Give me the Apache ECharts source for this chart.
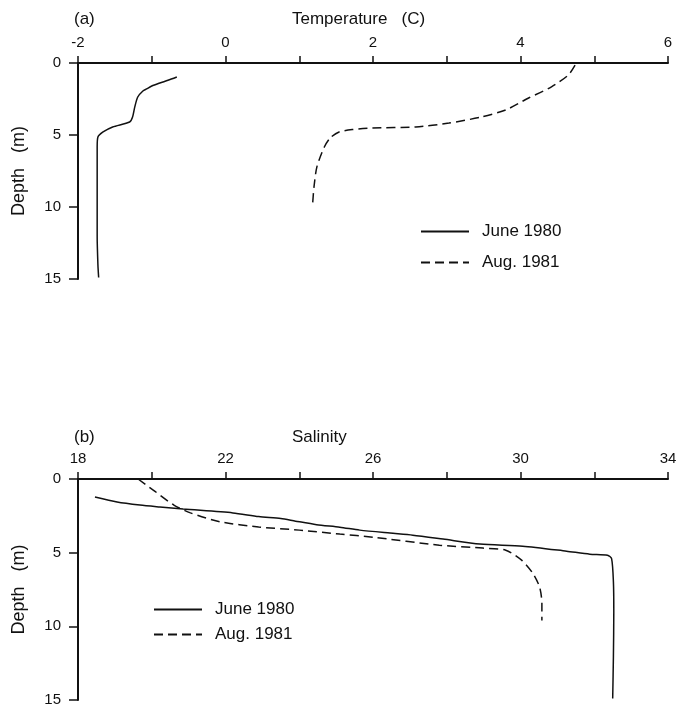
<!DOCTYPE html>
<html>
<head>
<meta charset="utf-8">
<script src="https://cdn.jsdelivr.net/npm/echarts@6/dist/echarts.min.js"></script>
<style>html,body{margin:0;padding:0;background:#fff;}#c{width:684px;height:709px;}</style>
</head>
<body>
<div id="c"></div>
<script>
// ---- Data (depth in m, value) ----
const tempDepthJune = [0.97,1.2,1.39,1.6,1.8,1.94,2.36,3.05,3.75,4.1,4.44,4.79,5.14,5.83,8.0,10.0,12.0,14.0,14.9];
const tempJune      = [-0.66,-0.78,-0.89,-1.0,-1.07,-1.12,-1.19,-1.23,-1.26,-1.30,-1.53,-1.66,-1.73,-1.74,-1.74,-1.74,-1.74,-1.73,-1.72];
const tempDepthAug  = [0.15,0.83,1.66,2.43,3.26,3.75,4.17,4.44,4.51,4.62,4.79,5.2,5.83,7.2,8.6,9.9];
const tempAug       = [4.74,4.65,4.42,4.11,3.80,3.47,3.03,2.58,1.99,1.72,1.54,1.42,1.34,1.24,1.20,1.18];

const salDepthJune = [1.22,1.56,1.77,1.90,2.04,2.30,2.55,2.68,2.86,3.10,3.27,3.47,3.67,3.81,4.08,4.42,4.56,4.90,5.10,5.17,5.40,7.0,9.0,12.0,14.9];
const salJune      = [18.46,19.06,19.68,20.22,20.85,22.20,22.90,23.50,23.90,24.47,25.10,25.64,26.46,27.08,27.90,28.90,30.06,31.25,31.88,32.36,32.47,32.52,32.53,32.52,32.50];
const salDepthAug  = [0.0,0.75,1.77,2.30,2.90,3.26,3.47,3.74,3.95,4.49,4.69,4.83,5.51,6.39,7.35,8.44,9.6];
const salAug       = [19.63,20.04,20.60,21.05,21.85,22.90,24.00,25.10,26.00,27.80,28.98,29.60,30.03,30.33,30.52,30.58,30.58];

const depthTicks = [0,5,10,15];
const tempLabels = [-2,0,2,4,6];
const salLabels = [18,22,26,30,34];
const seriesNames = ['June 1980','Aug. 1981'];

function pairs(vals, depths){ return vals.map((v,i)=>[v, depths[i]]); }

const FONT = 'Liberation Sans';
const INK = '#111';
const dash = [9,5];

function xAxisCfg(grid, min, max, interval, labels){
  return {
    type:'value', gridIndex:grid, position:'top', min:min, max:max, interval:interval,
    axisLine:{show:true, onZero:false, lineStyle:{color:INK, width:2}},
    axisTick:{show:true, inside:false, length:7, lineStyle:{color:INK, width:1.5}},
    axisLabel:{margin:13, color:INK, fontFamily:FONT, fontSize:15,
      formatter:v=> labels.indexOf(v)>=0 ? String(v) : ''},
    splitLine:{show:false}
  };
}
function yAxisCfg(grid){
  return {
    type:'value', gridIndex:grid, inverse:true, min:0, max:15, interval:5,
    name:'Depth   (m)', nameLocation:'middle', nameGap:50, nameRotate:90,
    nameTextStyle:{color:INK, fontFamily:FONT, fontSize:18},
    axisLine:{show:true, onZero:false, lineStyle:{color:INK, width:2}},
    axisTick:{show:true, length:9, lineStyle:{color:INK, width:1.5}},
    axisLabel:{margin:17, color:INK, fontFamily:FONT, fontSize:15,
      formatter:v=> depthTicks.indexOf(v)>=0 ? String(v) : ''},
    splitLine:{show:false}
  };
}
function lineSeries(name, data, xi, yi, type){
  return {
    name:name, type:'line', xAxisIndex:xi, yAxisIndex:yi, data:data,
    symbol:'none', smooth:0.25, silent:true,
    lineStyle:{color:INK, width:1.5, type:type},
    itemStyle:{color:INK}
  };
}
const titleStyle = {fontFamily:FONT, fontSize:17, fontWeight:'normal', color:INK};
const legendBase = {
  data:seriesNames, orient:'vertical', padding:0, itemWidth:48, itemHeight:14,
  selectedMode:false, itemStyle:{opacity:0},
  textStyle:{fontFamily:FONT, fontSize:17, color:INK, padding:[0,0,0,8]}
};

const option = {
  backgroundColor:'#fff',
  animation:false,
  textStyle:{fontFamily:FONT},
  title:[
    {text:'(a)', left:74, top:11, padding:0, textStyle:titleStyle},
    {text:'Temperature   (C)', left:292, top:11, padding:0, textStyle:titleStyle},
    {text:'(b)', left:74, top:429, padding:0, textStyle:titleStyle},
    {text:'Salinity', left:292, top:429, padding:0, textStyle:titleStyle}
  ],
  grid:[
    {left:78, top:63, width:590, height:216},
    {left:78, top:479, width:590, height:221}
  ],
  xAxis:[
    xAxisCfg(0, -2, 6, 1, tempLabels),
    xAxisCfg(1, 18, 34, 2, salLabels)
  ],
  yAxis:[ yAxisCfg(0), yAxisCfg(1) ],
  legend:[
    Object.assign({}, legendBase, {left:420, top:223, itemGap:14}),
    Object.assign({}, legendBase, {left:153, top:601, itemGap:8})
  ],
  series:[
    lineSeries(seriesNames[0], pairs(tempJune, tempDepthJune), 0, 0, 'solid'),
    lineSeries(seriesNames[1], pairs(tempAug, tempDepthAug), 0, 0, dash),
    lineSeries(seriesNames[0], pairs(salJune, salDepthJune), 1, 1, 'solid'),
    lineSeries(seriesNames[1], pairs(salAug, salDepthAug), 1, 1, dash)
  ]
};
const chart = echarts.init(document.getElementById('c'), null, {renderer:'canvas'});
chart.setOption(option);
</script>
</body>
</html>
